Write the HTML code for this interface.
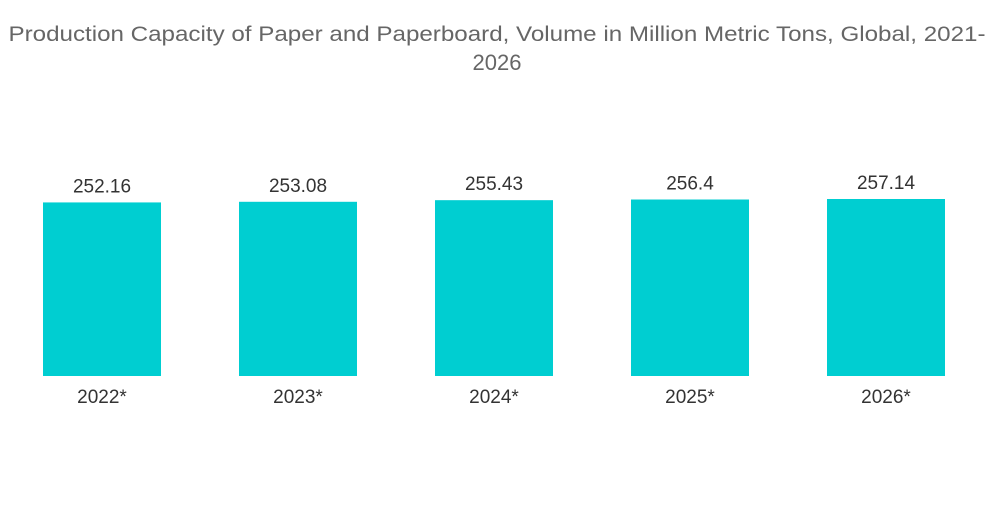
<!DOCTYPE html>
<html><head><meta charset="utf-8"><style>
body{margin:0;background:#fff;width:1000px;height:504px;overflow:hidden;font-family:"Liberation Sans",sans-serif}
</style></head><body>
<svg width="1000" height="504">
<text x="497" y="41" text-anchor="middle" font-size="21" fill="#666" textLength="977" lengthAdjust="spacingAndGlyphs">Production Capacity of Paper and Paperboard, Volume in Million Metric Tons, Global, 2021-</text>
<text x="497" y="70" text-anchor="middle" font-size="22" fill="#666">2026</text>
<g id="bars"></g>
</svg>
<script>
const categories=["2022*","2023*","2024*","2025*","2026*"];
const values=[252.16,253.08,255.43,256.4,257.14];
const labels=["252.16","253.08","255.43","256.4","257.14"];
const base=376, pxPerUnit=177/257.14;
function y(v){return base-v*pxPerUnit;}
function x(i){return 43+i*196;}
const g=document.getElementById('bars');const NS="http://www.w3.org/2000/svg";
categories.forEach((c,i)=>{
 const r=document.createElementNS(NS,'rect');
 
 
 r.setAttribute('x',x(i));r.setAttribute('width',118);r.setAttribute('y',y(values[i]));r.setAttribute('height',base-y(values[i]));r.setAttribute('fill','#00ced1');g.appendChild(r);
 const t=document.createElementNS(NS,'text');
 
 
 t.setAttribute('x',x(i)+59);t.setAttribute('y',y(values[i])-10);t.setAttribute('text-anchor','middle');t.setAttribute('font-size','19');t.setAttribute('fill','#333');t.textContent=labels[i];g.appendChild(t);
 const l=document.createElementNS(NS,'text');
 
 
 l.setAttribute('x',x(i)+59);l.setAttribute('y',403);l.setAttribute('text-anchor','middle');l.setAttribute('font-size','19');l.setAttribute('fill','#333');l.textContent=c;g.appendChild(l);
});
</script>
</body></html>
